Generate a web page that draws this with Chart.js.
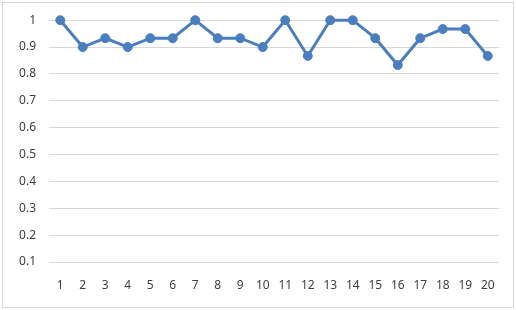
<!DOCTYPE html>
<html>
<head>
<meta charset="utf-8">
<script src="https://cdn.jsdelivr.net/npm/chart.js@4"></script>
<style>
  html, body { margin: 0; padding: 0; background: #fff; }
  #wrap { position: relative; width: 516px; height: 310px; }
  #frame { position: absolute; left: 2px; top: 2px; width: 510px; height: 304px; border: 1px solid #d9d9d9; pointer-events: none; }
</style>
</head>
<body>
<div id="wrap">
  <canvas id="lineChart" width="516" height="310"></canvas>
  <div id="frame"></div>
</div>
<script>
// categories and values
const labels = ['1', '2', '3', '4', '5', '6', '7', '8', '9', '10',
                '11', '12', '13', '14', '15', '16', '17', '18', '19', '20'];
const values = [1, 0.9, 0.933, 0.9, 0.933, 0.933, 1, 0.933, 0.933, 0.9,
                1, 0.867, 1, 1, 0.933, 0.833, 0.933, 0.967, 0.967, 0.867];
const yTicks = [0.1, 0.2, 0.3, 0.4, 0.5, 0.6, 0.7, 0.8, 0.9, 1];

const ctx = document.getElementById('lineChart').getContext('2d');

new Chart(ctx, {
  type: 'line',
  data: {
    labels: labels,
    datasets: [{
      data: values,
      borderColor: '#4a7ebf',
      backgroundColor: '#4a7ebf',
      borderWidth: 3,
      pointBackgroundColor: '#4a7ebf',
      pointBorderColor: '#4a7ebf',
      pointRadius: 4.5,
      pointBorderWidth: 1,
      tension: 0,
      clip: false
    }]
  },
  options: {
    responsive: false,
    animation: false,
    layout: { padding: { left: 0, right: 17, top: 17, bottom: 0 } },
    plugins: { legend: { display: false }, tooltip: { enabled: false } },
    scales: {
      x: {
        offset: true,
        grid: { display: false, drawTicks: false },
        border: { display: false },
        ticks: {
          color: '#404040',
          font: { family: 'Noto Sans', size: 12 },
          padding: 16,
          maxRotation: 0,
          autoSkip: false
        },
        afterFit: scale => { scale.height = 48; }
      },
      y: {
        min: 0.1,
        max: 1,
        grid: { color: '#d9d9d9', lineWidth: 1, drawTicks: false },
        border: { display: false },
        afterBuildTicks: scale => { scale.ticks = yTicks.map(v => ({ value: v })); },
        ticks: {
          color: '#404040',
          font: { family: 'Noto Sans', size: 12 },
          padding: 13,
          callback: value => String(Math.round(value * 10) / 10)
        },
        afterFit: scale => { scale.width = 49; }
      }
    }
  }
});
</script>
</body>
</html>
